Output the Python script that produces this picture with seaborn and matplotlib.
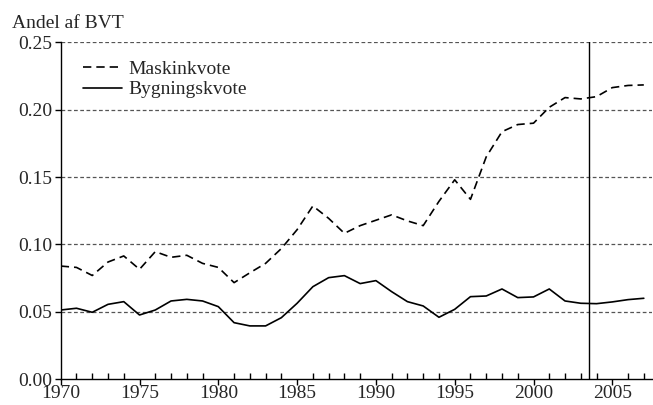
import matplotlib
matplotlib.use("Agg")
import matplotlib.pyplot as plt
import pandas as pd
import seaborn as sns
import numpy as np

years = list(range(1970, 2008))

# machine share of gross value added (dashed)
maskinkvote = [0.084, 0.083, 0.077, 0.087, 0.0915, 0.0816, 0.0947, 0.0905, 0.092, 0.086,
               0.083, 0.0717, 0.079, 0.086, 0.097, 0.111, 0.1286, 0.1194, 0.1083, 0.114,
               0.118, 0.122, 0.1175, 0.114, 0.132, 0.148, 0.1335, 0.165, 0.1837, 0.189,
               0.190, 0.2018, 0.209, 0.208, 0.2097, 0.2164, 0.218, 0.2184]

# building share (solid)
bygningskvote = [0.0514, 0.0527, 0.0497, 0.0556, 0.0576, 0.0477, 0.0514, 0.0581, 0.0593, 0.0581,
                 0.0539, 0.042, 0.0396, 0.0396, 0.0457, 0.0564, 0.0687, 0.0754, 0.0769, 0.071,
                 0.0732, 0.065, 0.0576, 0.0544, 0.046, 0.0519, 0.0613, 0.0618, 0.067, 0.0606,
                 0.0611, 0.067, 0.0581, 0.0564, 0.0561, 0.0574, 0.0591, 0.0601]

y_ticks = [0.00, 0.05, 0.10, 0.15, 0.20, 0.25]
x_ticks = [1970, 1975, 1980, 1985, 1990, 1995, 2000, 2005]

df = pd.DataFrame({'year': years, 'Maskinkvote': maskinkvote, 'Bygningskvote': bygningskvote})

sns.set_theme(style="white")
plt.rcParams['font.family'] = ['Liberation Serif', 'DejaVu Serif']

fig = plt.figure(figsize=(6.53, 4.05), dpi=100)
ax = fig.add_axes([0.093, 0.0635, 0.905, 0.832])

# dashed grid lines
for v in y_ticks[1:]:
    ax.axhline(v, color='#555555', linestyle=(0, (3, 2)), linewidth=0.9, zorder=1)

sns.lineplot(data=df, x='year', y='Maskinkvote', ax=ax, color='black', linewidth=1.2,
             linestyle=(0, (5, 3)), label='Maskinkvote', zorder=3)
sns.lineplot(data=df, x='year', y='Bygningskvote', ax=ax, color='black', linewidth=1.2,
             label='Bygningskvote', zorder=3)

ax.axvline(2003.5, color='black', linewidth=1.0, zorder=2)

ax.set_xlim(1970, 2007.5)
ax.set_ylim(0, 0.25)
ax.set_xticks(x_ticks)
ax.set_xticks(years, minor=True)
ax.set_yticks(y_ticks)
ax.set_yticklabels(['%.2f' % v for v in y_ticks])
ax.set_xlabel('')
ax.set_ylabel('')

for side in ['top', 'right']:
    ax.spines[side].set_visible(False)
for side in ['left', 'bottom']:
    ax.spines[side].set_color('black')
    ax.spines[side].set_linewidth(1.0)

ax.tick_params(axis='x', which='major', direction='out', length=4, width=1, color='black',
               labelsize=14, pad=0, bottom=True)
ax.tick_params(axis='x', which='minor', direction='in', length=4, width=1, color='black', bottom=True)
ax.tick_params(axis='y', which='major', direction='out', length=4, width=1, color='black',
               labelsize=14, pad=2, left=True)

leg = ax.legend(loc='upper left', bbox_to_anchor=(0.038, 0.947), frameon=False, fontsize=14,
                handlelength=2.0, handletextpad=0.3, labelspacing=0.15, borderaxespad=0,
                borderpad=0)

fig.text(0.018, 0.92, 'Andel af BVT', fontsize=14, ha='left', va='bottom')

fig.savefig('out.png', dpi=100)
